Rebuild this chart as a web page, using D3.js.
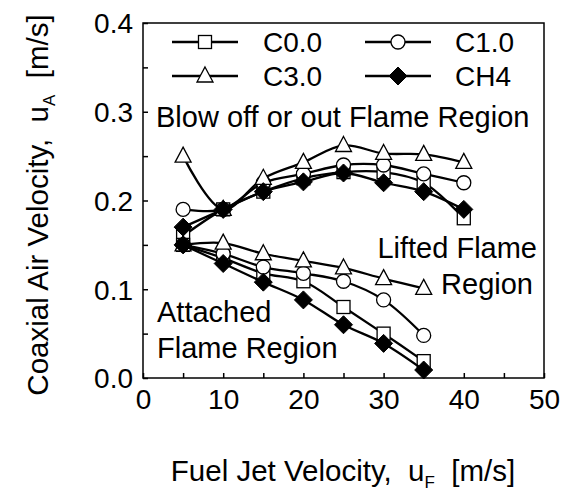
<!DOCTYPE html>
<html><head><meta charset="utf-8">
<script src="https://cdn.jsdelivr.net/npm/d3@7"></script>
<style>
body{margin:0;background:#fff;}
text{font-family:"Liberation Sans",Arial,sans-serif;fill:#000;white-space:pre;}
</style></head>
<body><svg id="c" width="567" height="493"></svg>
<script>
const xVals = [5,10,15,20,25,30,35,40];
const xLower = [5,10,15,20,25,30,35];
// Upper boundary (blow off) series
const upC00 = [0.16,0.19,0.21,0.225,0.232,0.232,0.22,0.18];
const upC10 = [0.19,0.19,0.22,0.23,0.24,0.24,0.23,0.22];
const upC30 = [0.25,0.19,0.225,0.243,0.262,0.253,0.252,0.243];
const upCH4 = [0.17,0.19,0.21,0.221,0.231,0.22,0.21,0.19];
// Lower boundary (attached/lifted) series
const loC00 = [0.15,0.135,0.118,0.109,0.08,0.05,0.019];
const loC10 = [0.15,0.14,0.125,0.118,0.109,0.088,0.048];
const loC30 = [0.15,0.152,0.14,0.132,0.124,0.112,0.101];
const loCH4 = [0.15,0.129,0.108,0.088,0.06,0.039,0.009];
const seriesNames = ["C0.0","C1.0","C3.0","CH4"];
const xTicks = [0,10,20,30,40,50];
const yTicks = [0.0,0.1,0.2,0.3,0.4];

const svg = d3.select("#c");
const L=143,R=544,T=23,B=378;
const x = d3.scaleLinear().domain([0,50]).range([L,R]);
const y = d3.scaleLinear().domain([0,0.4]).range([B,T]);

// axes with inward ticks
const gx = svg.append("g").attr("transform",`translate(0,${B})`)
  .call(d3.axisBottom(x).tickValues(d3.range(0,51,5)).tickSize(-5).tickPadding(11)
    .tickFormat(d=>xTicks.includes(d)?d3.format("d")(d):""));
const gy = svg.append("g").attr("transform",`translate(${L},0)`)
  .call(d3.axisLeft(y).tickValues(d3.range(0,0.401,0.05)).tickSize(-5).tickPadding(10)
    .tickFormat(d=>yTicks.some(t=>Math.abs(t-d)<1e-9)?d3.format(".1f")(d):""));
[gx,gy].forEach(g=>{
  g.select(".domain").remove();
  g.selectAll("line").attr("stroke","#000").attr("stroke-width",1.5);
  g.selectAll("text").attr("font-size",28).attr("font-family","Liberation Sans, Arial, sans-serif").attr("fill","#000");
});
gy.selectAll("text").attr("dy","0.35em");
svg.append("rect").attr("x",L).attr("y",T).attr("width",R-L).attr("height",B-T)
  .attr("fill","none").attr("stroke","#000").attr("stroke-width",1.5);

const line = d3.line().x(d=>x(d[0])).y(d=>y(d[1])).curve(d3.curveCatmullRom.alpha(0.5));

function marker(g, type, cx, cy){
  if(type==="square") g.append("rect").attr("x",cx-6.5).attr("y",cy-6.5).attr("width",13).attr("height",13)
      .attr("fill","#fff").attr("stroke","#000").attr("stroke-width",1.3);
  else if(type==="circle") g.append("circle").attr("cx",cx).attr("cy",cy).attr("r",7)
      .attr("fill","#fff").attr("stroke","#000").attr("stroke-width",1.3);
  else if(type==="triangle") g.append("path").attr("d",`M${cx},${cy-9}L${cx+8},${cy+6}L${cx-8},${cy+6}Z`)
      .attr("fill","#fff").attr("stroke","#000").attr("stroke-width",1.3);
  else g.append("path").attr("d",`M${cx},${cy-9}L${cx+9},${cy}L${cx},${cy+9}L${cx-9},${cy}Z`)
      .attr("fill","#000").attr("stroke","#000").attr("stroke-width",1);
}
const types = ["square","circle","triangle","diamond"];
const upper = [upC00,upC10,upC30,upCH4];
const lower = [loC00,loC10,loC30,loCH4];
const plot = svg.append("g");
[0,1,2,3].forEach(i=>{
  const g = plot.append("g");
  const du = xVals.map((xv,j)=>[xv,upper[i][j]]);
  const dl = xLower.map((xv,j)=>[xv,lower[i][j]]);
  [du,dl].forEach(d=>{
    g.append("path").attr("d",line(d)).attr("fill","none").attr("stroke","#000").attr("stroke-width",2.3);
  });
  [du,dl].forEach(d=>d.forEach(p=>marker(g,types[i],x(p[0]),y(p[1]))));
});

// legend
const leg = svg.append("g");
const legPos = [[205,42,263],[398,42,455],[205,76,263],[398,76,455]];
legPos.forEach((p,i)=>{
  leg.append("line").attr("x1",p[0]-33).attr("x2",p[0]+33).attr("y1",p[1]).attr("y2",p[1])
    .attr("stroke","#000").attr("stroke-width",2.3);
  marker(leg,types[i],p[0],p[1]);
  leg.append("text").attr("x",p[2]).attr("y",p[1]+10).attr("font-size",28).text(seriesNames[i]);
});

// annotations
const ann = svg.append("g");
ann.append("text").attr("x",156).attr("y",127).attr("font-size",29).text("Blow off or out Flame Region");
ann.append("text").attr("x",537).attr("y",258).attr("font-size",29).attr("text-anchor","end").text("Lifted Flame");
ann.append("text").attr("x",533).attr("y",294).attr("font-size",29).attr("text-anchor","end").text("Region");
ann.append("text").attr("x",157).attr("y",322).attr("font-size",29).text("Attached");
ann.append("text").attr("x",157).attr("y",358).attr("font-size",29).text("Flame Region");

// axis titles
const xt = svg.append("text").attr("x",343).attr("y",481).attr("text-anchor","middle").attr("font-size",29.5);
xt.append("tspan").text("Fuel Jet Velocity,  u");
xt.append("tspan").attr("font-size",17).attr("dy",7).text("F");
xt.append("tspan").attr("dy",-7).text("  [m/s]");
const yt = svg.append("text").attr("transform","translate(48,205) rotate(-90)").attr("text-anchor","middle").attr("font-size",29.5);
yt.append("tspan").text("Coaxial Air Velocity,  u");
yt.append("tspan").attr("font-size",17).attr("dy",7).text("A");
yt.append("tspan").attr("dy",-7).text("  [m/s]");
</script></body></html>
